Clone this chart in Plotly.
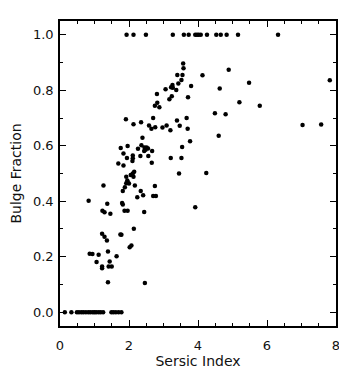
import plotly.graph_objects as go

# Sersic index vs bulge fraction
sersic_one = [1.93, 2.13, 2.49, 3.27, 3.59, 3.73, 3.92, 3.97, 4.02, 4.08,
              4.26, 4.53, 4.66, 4.83, 5.16, 6.32]
bulge_one = [1.0] * len(sersic_one)

sersic_zero = [0.14, 0.33, 0.49, 0.55, 0.62, 0.68, 0.75, 0.82, 0.88, 0.95,
               1.0, 1.05, 1.12, 1.18, 1.25, 1.49, 1.55, 1.62, 1.70, 1.78]
bulge_zero = [0.0] * len(sersic_zero)

sersic_mid = [3.57, 3.58, 3.40, 3.55, 4.13, 4.89, 3.52, 3.43, 3.26, 3.22,
              3.27, 3.37, 3.06, 3.80, 5.48, 4.63, 7.82, 2.81, 3.24, 3.17,
              3.71, 2.82, 2.75, 2.88, 5.20, 5.79, 4.49, 4.80, 1.91, 2.35,
              2.13, 2.70, 3.67, 3.39, 2.58, 2.76, 2.65, 2.97, 3.09, 3.20,
              3.47, 3.70, 7.03, 7.57, 4.60, 3.77, 2.39, 1.76, 2.26, 2.36,
              1.96, 2.45, 2.51, 2.48, 2.44, 2.55, 2.67, 3.54, 1.84, 1.94,
              2.11, 2.10, 2.33, 2.56, 1.69, 1.84, 2.11, 2.66, 3.21, 3.52,
              3.45, 4.24, 2.15, 2.11, 2.05, 2.13, 1.92, 1.95, 1.96, 1.92,
              2.00, 2.17, 1.26, 2.75, 1.88, 1.82, 2.34, 2.41, 2.24, 2.70,
              2.78, 1.80, 1.82, 0.83, 1.37, 3.92, 1.23, 1.29, 1.46, 1.87,
              1.96, 2.44, 2.14, 1.22, 1.75, 1.78, 1.29, 1.36, 2.07, 2.02,
              0.86, 0.94, 1.12, 1.39, 1.64, 1.22, 1.22, 1.44, 1.41, 1.50,
              1.06, 1.39, 2.46]
bulge_mid = [0.897, 0.880, 0.855, 0.855, 0.854, 0.874, 0.837, 0.825, 0.819, 0.811,
             0.809, 0.801, 0.804, 0.816, 0.827, 0.807, 0.836, 0.787, 0.779, 0.768,
             0.775, 0.755, 0.744, 0.739, 0.757, 0.744, 0.717, 0.714, 0.696, 0.685,
             0.678, 0.700, 0.700, 0.691, 0.673, 0.667, 0.661, 0.666, 0.673, 0.656,
             0.672, 0.661, 0.675, 0.677, 0.636, 0.616, 0.629, 0.592, 0.589, 0.602,
             0.599, 0.594, 0.594, 0.586, 0.581, 0.590, 0.581, 0.596, 0.572, 0.556,
             0.565, 0.545, 0.563, 0.563, 0.536, 0.529, 0.555, 0.539, 0.556, 0.556,
             0.500, 0.502, 0.506, 0.500, 0.495, 0.488, 0.488, 0.475, 0.469, 0.465,
             0.464, 0.457, 0.457, 0.455, 0.450, 0.437, 0.437, 0.422, 0.414, 0.419,
             0.419, 0.394, 0.388, 0.402, 0.391, 0.378, 0.366, 0.360, 0.355, 0.366,
             0.366, 0.361, 0.301, 0.283, 0.280, 0.279, 0.272, 0.258, 0.240, 0.234,
             0.211, 0.210, 0.207, 0.219, 0.202, 0.165, 0.158, 0.183, 0.165, 0.165,
             0.181, 0.108, 0.105]

x_all = sersic_zero + sersic_mid + sersic_one
y_all = bulge_zero + bulge_mid + bulge_one

fig = go.Figure()
fig.add_trace(go.Scatter(x=x_all, y=y_all, mode="markers",
                         marker=dict(color="black", size=4.5),
                         showlegend=False))

tick_font = dict(family="DejaVu Sans", size=13, color="#111")
title_font = dict(family="DejaVu Sans", size=14, color="#111")

# page body has an 8px margin, so the figure is a bit smaller and shifted
fig.update_xaxes(range=[0, 8], dtick=2, tick0=0, automargin=False,
                 showline=True, linecolor="black", linewidth=1.5, mirror="ticks",
                 ticks="inside", ticklen=6, tickcolor="black",
                 minor=dict(dtick=0.5, ticks="inside", ticklen=3),
                 showgrid=False, zeroline=False, tickfont=tick_font,
                 ticklabelstandoff=7,
                 title=dict(text="Sersic Index", standoff=2, font=title_font))
fig.update_yaxes(range=[-0.05, 1.05], dtick=0.2, tick0=0, tickformat=".1f",
                 automargin=False,
                 showline=True, linecolor="black", linewidth=1.5, mirror="ticks",
                 ticks="inside", ticklen=6, tickcolor="black",
                 minor=dict(dtick=0.1, ticks="inside", ticklen=3),
                 showgrid=False, zeroline=False, tickfont=tick_font,
                 ticklabelstandoff=2,
                 title=dict(text="Bulge Fraction", standoff=11, font=title_font))

fig.update_layout(width=339, height=364, plot_bgcolor="white", paper_bgcolor="white",
                  margin=dict(l=52, r=11, t=13, b=46))

fig.write_html("out.html")
